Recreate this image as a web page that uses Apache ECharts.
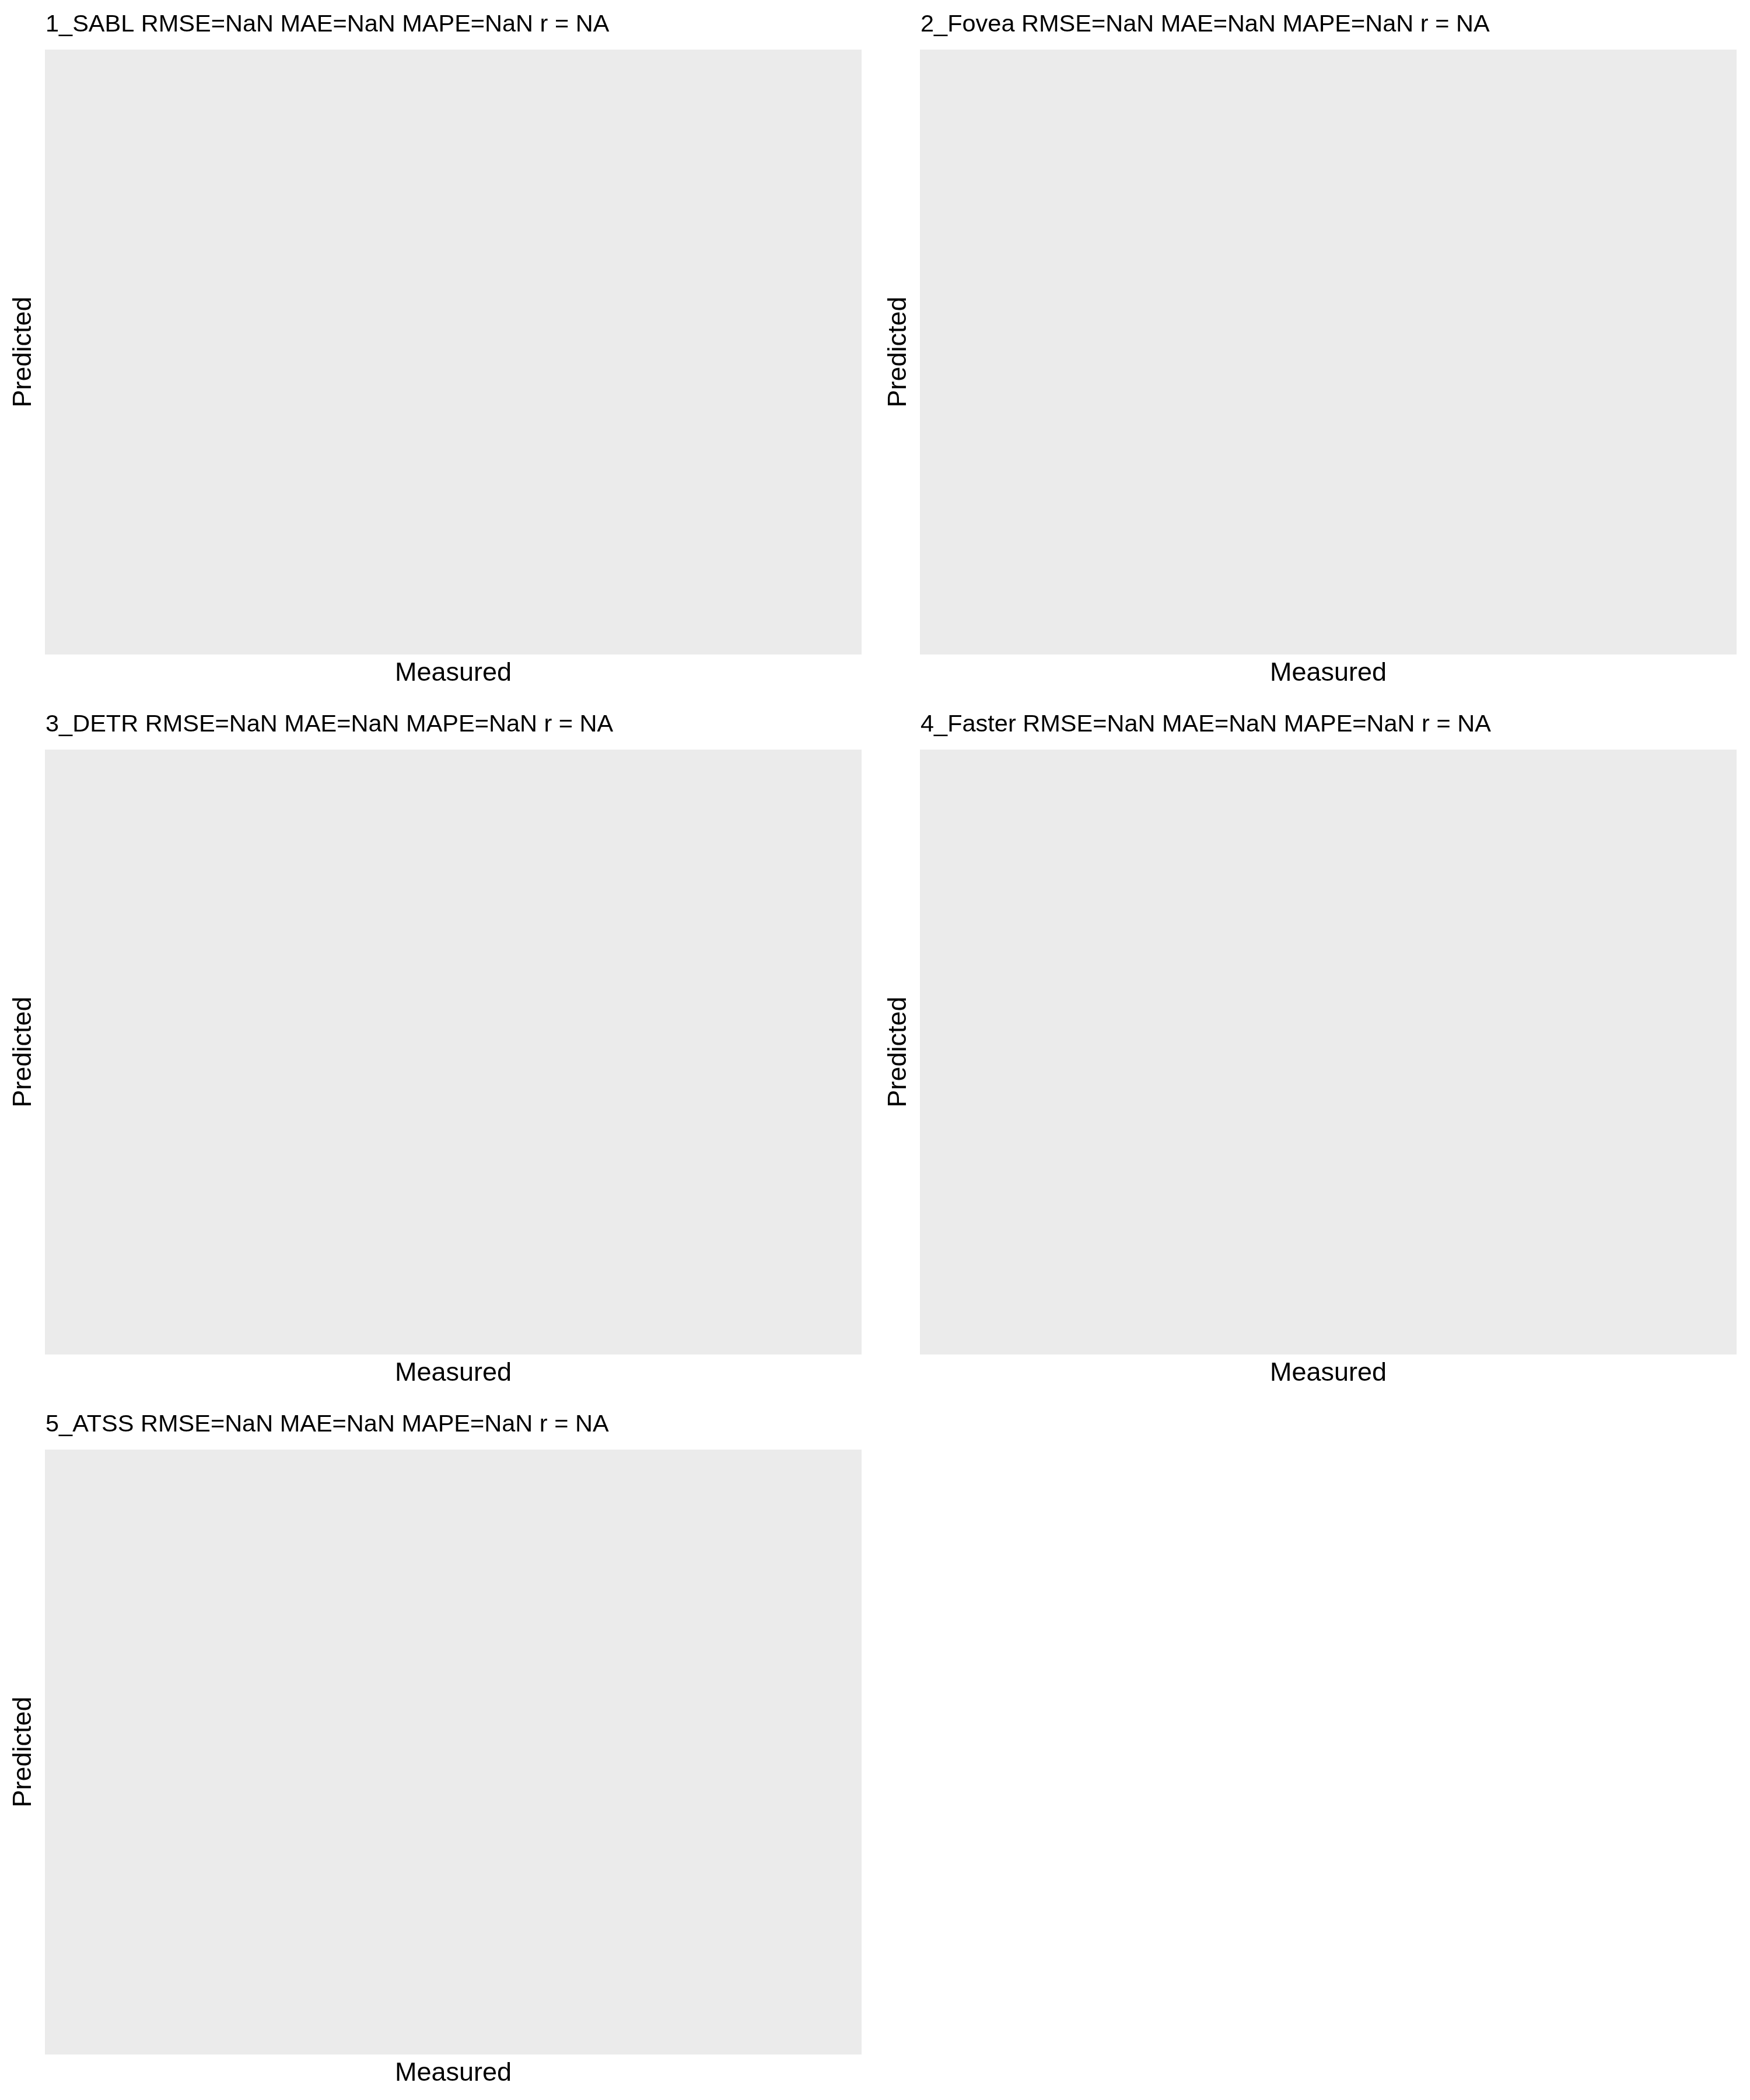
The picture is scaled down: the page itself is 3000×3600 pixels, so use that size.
<!DOCTYPE html>
<html>
<head>
<meta charset="utf-8">
<script src="https://cdn.jsdelivr.net/npm/echarts@6/dist/echarts.min.js"></script>
<style>html,body{margin:0;padding:0;background:#fff}#c{width:3000px;height:3600px}</style>
</head>
<body>
<div id="c"></div>
<script>
// Panel data (all metrics are NaN / NA in the source: no points plotted)
const models = ['1_SABL', '2_Fovea', '3_DETR', '4_Faster', '5_ATSS'];
const rmse = ['NaN', 'NaN', 'NaN', 'NaN', 'NaN'];
const mae = ['NaN', 'NaN', 'NaN', 'NaN', 'NaN'];
const mape = ['NaN', 'NaN', 'NaN', 'NaN', 'NaN'];
const rval = ['NA', 'NA', 'NA', 'NA', 'NA'];
const measured = [[], [], [], [], []];
const predicted = [[], [], [], [], []];
const xTitle = 'Measured';
const yTitle = 'Predicted';

const font = 'Liberation Sans, Arial, Helvetica, sans-serif';
const colLeft = [77, 1577];
const rowTop = [85, 1285, 2485];
const pw = 1400, ph = 1037;

const grids = [], xAxes = [], yAxes = [], titles = [], series = [];
models.forEach((m, i) => {
  const col = i % 2, row = Math.floor(i / 2);
  const left = colLeft[col], top = rowTop[row];
  grids.push({left: left, top: top, width: pw, height: ph, show: true,
    backgroundColor: '#EBEBEB', borderWidth: 0, containLabel: false});
  titles.push({text: m + ' RMSE=' + rmse[i] + ' MAE=' + mae[i] + ' MAPE=' + mape[i] + ' r = ' + rval[i],
    left: left + 1, top: top - 63, padding: 0,
    textStyle: {fontFamily: font, fontSize: 41.5, fontWeight: 'normal', color: '#000'}});
  const axCommon = {gridIndex: i, type: 'value', min: 0, max: 1,
    axisLine: {show: false}, axisTick: {show: false}, axisLabel: {show: false},
    splitLine: {show: false}, nameLocation: 'middle',
    nameTextStyle: {fontFamily: font, fontSize: 45, color: '#000'}};
  xAxes.push(Object.assign({}, axCommon, {name: xTitle, nameGap: 10,
    nameTextStyle: Object.assign({}, axCommon.nameTextStyle, {verticalAlign: 'top'})}));
  yAxes.push(Object.assign({}, axCommon, {name: yTitle, nameGap: 14,
    nameTextStyle: Object.assign({}, axCommon.nameTextStyle, {verticalAlign: 'bottom'})}));
  series.push({type: 'scatter', xAxisIndex: i, yAxisIndex: i,
    data: measured[i].map((v, k) => [v, predicted[i][k]])});
});

const chart = echarts.init(document.getElementById('c'), null, {renderer: 'canvas'});
chart.setOption({
  animation: false,
  backgroundColor: '#fff',
  title: titles,
  grid: grids,
  xAxis: xAxes,
  yAxis: yAxes,
  series: series
});
</script>
</body>
</html>
